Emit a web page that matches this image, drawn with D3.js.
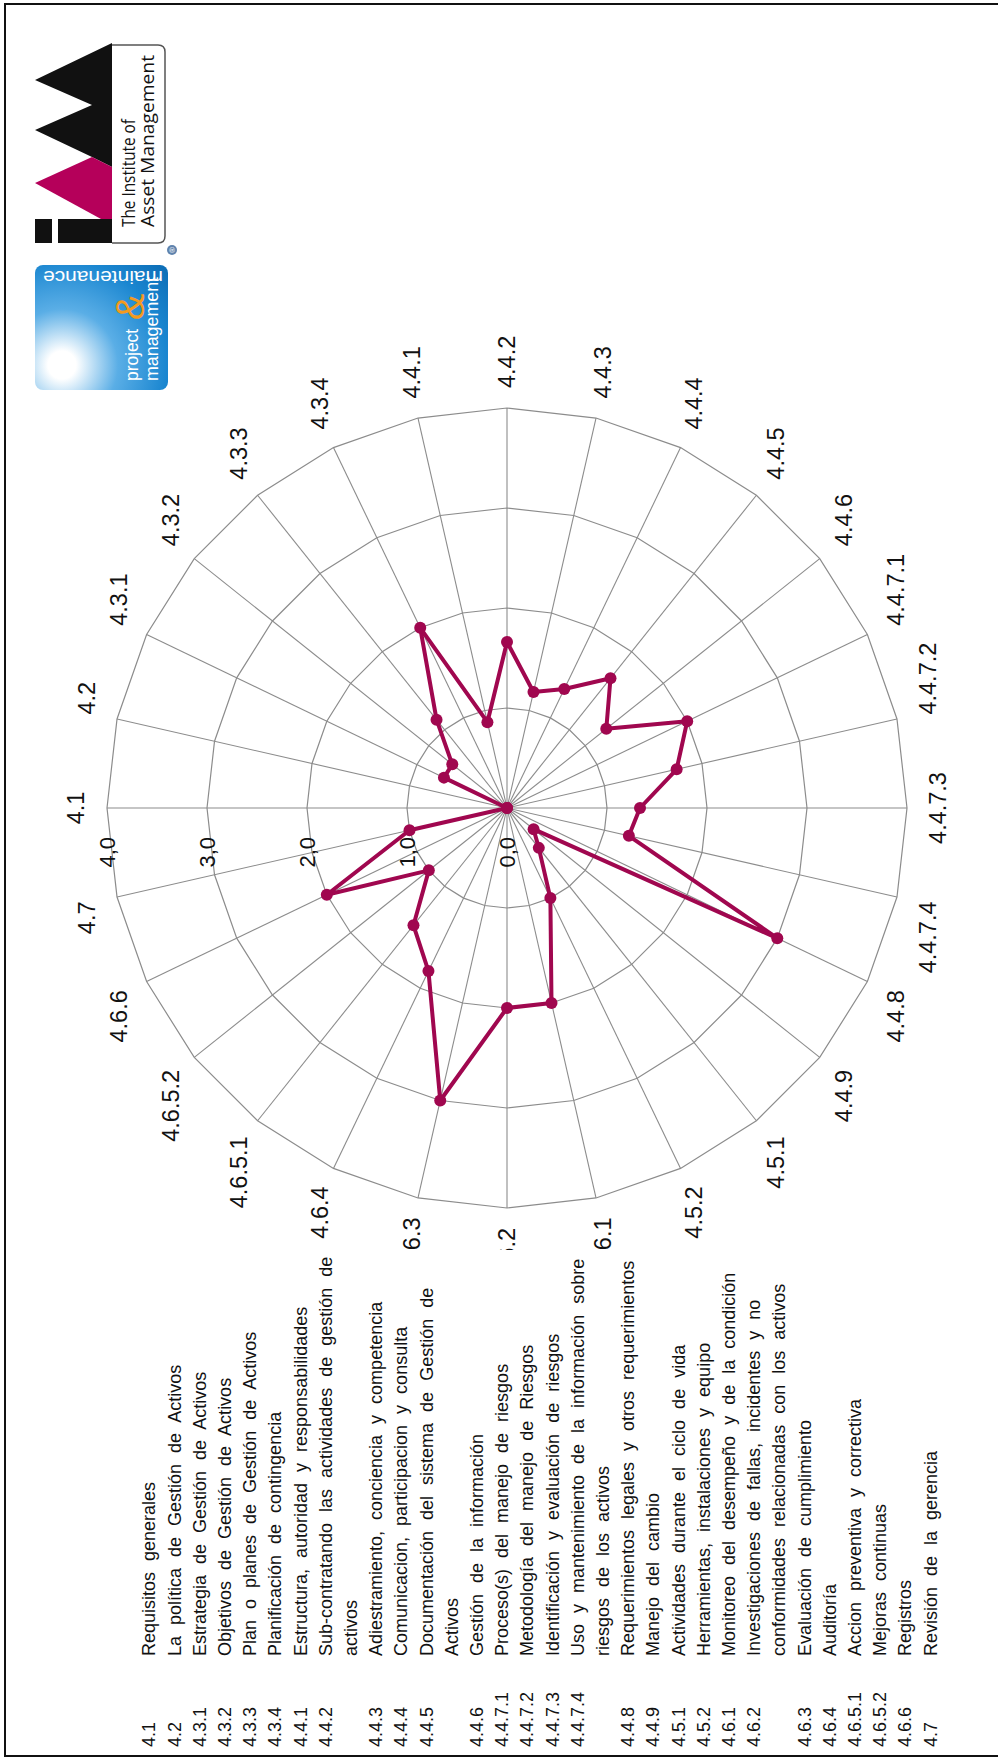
<!DOCTYPE html>
<html>
<head>
<meta charset="utf-8">
<script src="https://cdn.jsdelivr.net/npm/d3@7"></script>
<style>
  html, body { margin: 0; padding: 0; background: #fff; }
  svg { display: block; font-family: "Liberation Sans", Arial, sans-serif; }
</style>
</head>
<body>
<svg id="chart" width="998" height="1758"></svg>
<script>
// Requirement clauses (radar axes, clockwise from the top)
const clauses = ["4.1","4.2","4.3.1","4.3.2","4.3.3","4.3.4","4.4.1","4.4.2","4.4.3","4.4.4",
  "4.4.5","4.4.6","4.4.7.1","4.4.7.2","4.4.7.3","4.4.7.4","4.4.8","4.4.9","4.5.1","4.5.2",
  "4.6.1","4.6.2","4.6.3","4.6.4","4.6.5.1","4.6.5.2","4.6.6","4.7"];

// Assessed maturity score per clause (0 – 4)
const scores = [0, 0, 0.7, 0.7, 1.13, 2.0, 0.88, 1.66, 1.19, 1.32,
  1.66, 1.27, 2.0, 1.74, 1.33, 1.25, 3.0, 0.34, 0.51, 1.0,
  2.0, 2.0, 3.0, 1.81, 1.5, 1.0, 2.0, 1.0];

// Scale rings and their labels
const ringValues = [0, 1, 2, 3, 4];
const ringLabels = ["0,0", "1,0", "2,0", "3,0", "4,0"];

// Clause descriptions ("\n" marks a wrapped line)
const clauseNames = [
  "Requisitos generales",
  "La política de Gestión de Activos",
  "Estrategia de Gestión de Activos",
  "Objetivos de Gestión de Activos",
  "Plan o planes de Gestión de Activos",
  "Planificación de contingencia",
  "Estructura, autoridad y responsabilidades",
  "Sub-contratando las actividades de gestión de\nactivos",
  "Adiestramiento, conciencia y competencia",
  "Comunicacion, participacion y consulta",
  "Documentación del sistema de Gestión de\nActivos",
  "Gestión de la información",
  "Proceso(s) del manejo de riesgos",
  "Metodología del manejo de Riesgos",
  "Identificación y evaluación de riesgos",
  "Uso y mantenimiento de la información sobre\nriesgos de los activos",
  "Requerimientos legales y otros requerimientos",
  "Manejo del cambio",
  "Actividades durante el ciclo de vida",
  "Herramientas, instalaciones y equipo",
  "Monitoreo del desempeño y de la condición",
  "Investigaciones de fallas, incidentes y no\nconformidades relacionadas con los activos",
  "Evaluación de cumplimiento",
  "Auditoría",
  "Accion preventiva y correctiva",
  "Mejoras continuas",
  "Registros",
  "Revisión de la gerencia"
];

const svg = d3.select("#chart");
const PAGE_W = 998, PAGE_H = 1758;

svg.append("rect").attr("width", PAGE_W).attr("height", PAGE_H).attr("fill", "#fff");

// The report page is laid out in landscape and turned a quarter turn.
const page = svg.append("g").attr("transform", `translate(0,${PAGE_H}) rotate(-90)`);

// ---------- Radar ----------
const cx = 950, cy = 507, R = 400;
const n = clauses.length;
const angle = d3.scaleLinear().domain([0, n]).range([0, 2 * Math.PI]);
const r = d3.scaleLinear().domain([0, 4]).range([0, R]);

const radar = page.append("g").attr("transform", `translate(${cx},${cy})`);
const gridColor = "#8c8c8c";

// rings (polygonal web)
const ringLine = d3.lineRadial()
  .angle((d, i) => angle(i))
  .radius(d => r(d))
  .curve(d3.curveLinearClosed);

radar.append("g").selectAll("path")
  .data(ringValues.filter(v => v > 0))
  .join("path")
  .attr("d", v => ringLine(clauses.map(() => v)))
  .attr("fill", "none")
  .attr("stroke", gridColor)
  .attr("stroke-width", 1.2);

// spokes
radar.append("g").selectAll("line")
  .data(clauses)
  .join("line")
  .attr("x1", 0).attr("y1", 0)
  .attr("x2", (d, i) => r(4) * Math.sin(angle(i)))
  .attr("y2", (d, i) => -r(4) * Math.cos(angle(i)))
  .attr("stroke", gridColor)
  .attr("stroke-width", 1.1);

// ring value labels along the first spoke
radar.append("g").selectAll("text")
  .data(ringValues)
  .join("text")
  .attr("x", -29)
  .attr("y", v => -r(v))
  .attr("dy", "0.36em")
  .attr("text-anchor", "end")
  .attr("font-size", 22)
  .attr("fill", "#111")
  .text((v, i) => ringLabels[i]);

// score polygon
const lineColor = "#a0074f";
const scoreLine = d3.lineRadial()
  .angle((d, i) => angle(i))
  .radius(d => r(d))
  .curve(d3.curveLinearClosed);

radar.append("path")
  .attr("d", scoreLine(scores))
  .attr("fill", "none")
  .attr("stroke", lineColor)
  .attr("stroke-width", 4)
  .attr("stroke-linejoin", "round");

radar.append("g").selectAll("circle")
  .data(scores)
  .join("circle")
  .attr("cx", (d, i) => r(d) * Math.sin(angle(i)))
  .attr("cy", (d, i) => -r(d) * Math.cos(angle(i)))
  .attr("r", 6)
  .attr("fill", lineColor);

// axis labels
const labelR = 420;
radar.append("g").selectAll("text")
  .data(clauses)
  .join("text")
  .each(function(d, i) {
    const a = angle(i), s = Math.sin(a), c = Math.cos(a);
    const anchor = Math.abs(s) < 0.1 ? "middle" : (s > 0 ? "start" : "end");
    d3.select(this)
      .attr("x", labelR * s)
      .attr("y", -labelR * c - 11 * c)
      .attr("dy", "0.36em")
      .attr("text-anchor", anchor);
  })
  .attr("font-size", 23.5)
  .attr("fill", "#111")
  .text(d => d);

// ---------- Legend ----------
page.append("rect")
  .attr("x", 0).attr("y", 0)
  .attr("width", 508).attr("height", PAGE_H)
  .attr("fill", "#fff");

const legend = page.append("g").attr("font-size", 18).attr("fill", "#111");
const rowStep = 25.2, firstRow = 149;
let lineIdx = 0;
clauses.forEach((code, i) => {
  const lines = clauseNames[i].split("\n");
  const y0 = firstRow + rowStep * lineIdx;
  legend.append("text").attr("x", 11).attr("y", y0).attr("dy", "0.36em").text(code);
  lines.forEach((ln, k) => {
    legend.append("text")
      .attr("x", 102)
      .attr("y", firstRow + rowStep * (lineIdx + k))
      .attr("dy", "0.36em")
      .style("word-spacing", "6px")
      .text(ln);
  });
  lineIdx += lines.length;
});

// ---------- Logos (drawn in page coordinates) ----------
const logos = svg.append("g");

// IAM mark
logos.append("path")
  .attr("d", "M112,43 L35,80 L92,105 L35,130 L92,157 L112,167 Z")
  .attr("fill", "#111");
logos.append("path")
  .attr("d", "M35,183 L92,157 L112,167 L112,225 Z")
  .attr("fill", "#b5005a");
logos.append("rect").attr("x", 58).attr("y", 219).attr("width", 54).attr("height", 24).attr("fill", "#111");
logos.append("rect").attr("x", 35).attr("y", 219).attr("width", 17).attr("height", 24).attr("fill", "#111");
logos.append("path")
  .attr("d", "M112,45 L158,45 Q165,45 165,52 L165,236 Q165,243 158,243 L112,243")
  .attr("fill", "none").attr("stroke", "#555").attr("stroke-width", 1.5);
logos.append("text")
  .attr("transform", "translate(135,227) rotate(-90)")
  .attr("font-family", "'Open Sans', 'Liberation Sans', sans-serif")
  .attr("font-size", 18).attr("fill", "#111")
  .attr("textLength", 108).attr("lengthAdjust", "spacingAndGlyphs")
  .text("The Institute of");
logos.append("text")
  .attr("transform", "translate(154,227) rotate(-90)")
  .attr("font-family", "'Open Sans', 'Liberation Sans', sans-serif")
  .attr("font-size", 18).attr("fill", "#111")
  .attr("textLength", 172).attr("lengthAdjust", "spacingAndGlyphs")
  .text("Asset Management");
logos.append("circle").attr("cx", 172).attr("cy", 250).attr("r", 5).attr("fill", "#5f83ad");
logos.append("text")
  .attr("transform", "translate(175,250) rotate(-90)")
  .attr("text-anchor", "middle")
  .attr("font-size", 8).attr("fill", "#fff")
  .text("®");

// project & maintenance management badge
const defs = svg.append("defs");
const grad = defs.append("radialGradient")
  .attr("id", "badgeGrad")
  .attr("gradientUnits", "userSpaceOnUse")
  .attr("cx", 62).attr("cy", 365).attr("r", 140);
grad.append("stop").attr("offset", 0).attr("stop-color", "#ffffff");
grad.append("stop").attr("offset", 0.1).attr("stop-color", "#ffffff");
grad.append("stop").attr("offset", 0.4).attr("stop-color", "#5aaee6");
grad.append("stop").attr("offset", 0.75).attr("stop-color", "#1a86d0");
grad.append("stop").attr("offset", 1).attr("stop-color", "#0d6fb8");

logos.append("rect")
  .attr("x", 35).attr("y", 265).attr("width", 133).attr("height", 125)
  .attr("rx", 8).attr("fill", "url(#badgeGrad)");
logos.append("text")
  .attr("transform", "translate(138,381) rotate(-90)")
  .attr("font-size", 18).attr("fill", "#fff")
  .attr("textLength", 52).attr("lengthAdjust", "spacingAndGlyphs")
  .text("project");
logos.append("text")
  .attr("transform", "translate(158,381) rotate(-90)")
  .attr("font-size", 18).attr("fill", "#fff")
  .attr("textLength", 104).attr("lengthAdjust", "spacingAndGlyphs")
  .text("management");
logos.append("text")
  .attr("transform", "translate(144,307) rotate(-90)")
  .attr("text-anchor", "middle")
  .attr("font-size", 40).attr("fill", "#f39a1e")
  .text("&");
logos.append("text")
  .attr("transform", "translate(163,271) rotate(180)")
  .attr("font-size", 18).attr("fill", "#fff")
  .attr("textLength", 120).attr("lengthAdjust", "spacingAndGlyphs")
  .text("maintenance");

// page frame
svg.append("rect")
  .attr("x", 5).attr("y", 4)
  .attr("width", 1000).attr("height", 1752)
  .attr("fill", "none").attr("stroke", "#111").attr("stroke-width", 2);
</script>
</body>
</html>
